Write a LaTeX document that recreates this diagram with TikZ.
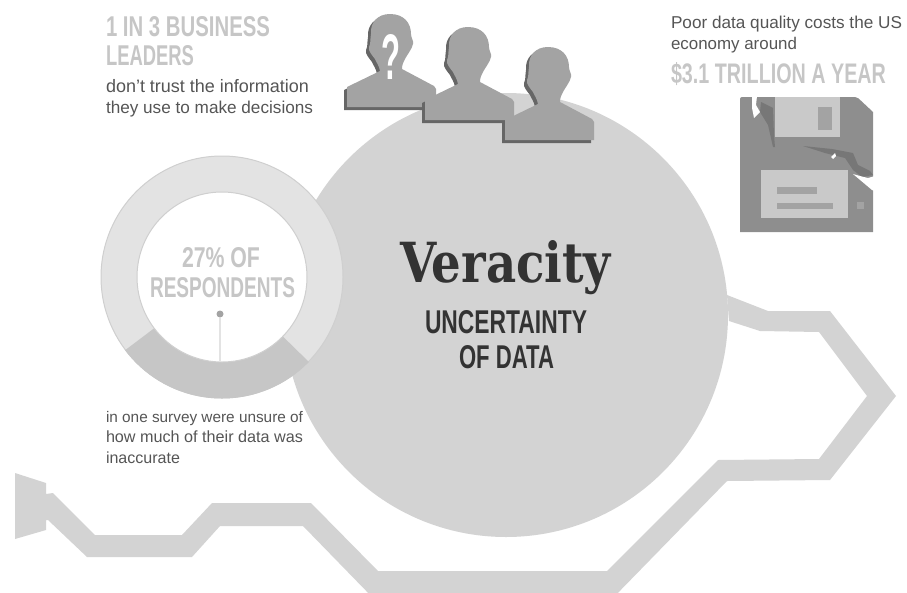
\documentclass[tikz,border=0pt]{standalone}
\usepackage{graphicx}
\usepackage{fontspec}
\setmainfont{Liberation Sans}
\newfontfamily\slabf{DejaVu Serif}
\definecolor{band}{HTML}{D3D3D3}
\definecolor{ringlight}{HTML}{E3E3E3}
\definecolor{ringdark}{HTML}{C6C6C6}
\definecolor{ringedge}{HTML}{CFCFCF}
\definecolor{headgrey}{HTML}{C6C6C6}
\definecolor{bodygrey}{HTML}{555555}
\definecolor{inkgrey}{HTML}{333333}
\definecolor{personfill}{HTML}{A3A3A3}
\definecolor{personshade}{HTML}{666666}
\definecolor{disk}{HTML}{8E8E8E}
\definecolor{diskdark}{HTML}{777777}
\definecolor{disklight}{HTML}{C9C9C9}
\definecolor{diskmid}{HTML}{A3A3A3}
\newcommand\fitbox[3]{\resizebox{#1pt}{#2pt}{#3}}
\newcommand\fitwide[2]{\resizebox{#1pt}{!}{#2}}
\newcommand\personpath{(0,0) -- (0,-20) -- (33,-36) .. controls (32,-42) and (29,-45) .. (28,-48) .. controls (25,-52) and (21,-56) .. (22,-60) .. controls (24,-64) and (23,-68) .. (24,-73) .. controls (23,-85) and (31,-93) .. (43,-93) .. controls (57,-93) and (64,-84) .. (64,-73) .. controls (64,-69) and (67,-66) .. (66,-63) .. controls (65,-58) and (60,-52) .. (58,-48) .. controls (56,-44) and (55,-42) .. (55,-38) -- (87,-21) -- (89,-18) -- (89,0) -- cycle}
\tikzset{
  lbl/.style={inner sep=0pt,outer sep=0pt,anchor=base west},
  head/.style={lbl,text=headgrey},
  body/.style={lbl,text=bodygrey},
  person/.pic={
    \fill[personshade,shift={(-3,3)}] \personpath;
    \fill[personfill] \personpath;
  }
}
\begin{document}
\begin{tikzpicture}[x=1pt,y=-1pt]
\useasboundingbox (0,0) rectangle (907,592);
\clip (0,0) rectangle (907,592);
% trace line with arrow end
\fill[band] (15,473) -- (46,483) -- (46,494) -- (53,493) -- (95,535) -- (182,535) -- (212,503) -- (311,503) -- (378,571) -- (607,571) -- (718,460) -- (819,459) -- (867,396) -- (819,332) -- (760,331) -- (729,321) -- (727,295) -- (768,311) -- (830,311) -- (896,396) -- (830,480) -- (727,481) -- (611,600) -- (375,600) -- (303,526) -- (220,526) -- (192,557) -- (87,557) -- (48,520) -- (46,520) -- (46,530) -- (15,539) -- cycle;
% big circle
\fill[band] (506,315) circle[radius=222pt];
% donut
\fill[ringlight,draw=ringedge,line width=1pt] (222,277) circle[radius=121pt];
\begin{scope}
  \clip (222,277) -- (50,407) -- (222,500) -- (400,451) -- cycle;
  \fill[ringdark] (222,277) circle[radius=121.5pt];
\end{scope}
\fill[white,draw=ringedge,line width=1pt] (222,277) circle[radius=85pt];
\coordinate (leadend) at (220,362);
\node[circle,fill=diskmid,inner sep=0pt,minimum size=7pt] (leaddot) at (220,314) {};
\draw[ringlight,line width=1.6pt] (leaddot) -- (leadend);
% people
\pic at (347,107) {person};
\node[lbl,text=white] (qmark) at (381,79) {\fitbox{19}{45}{\bfseries ?}};
\pic at (425,120) {person};
\pic at (505,140) {person};
% floppy disk
\fill[disk,rounded corners=2pt] (740,232) -- (740,97) -- (857,97) [sharp corners] -- (873,112) -- (873,232) -- cycle;
\fill[disklight] (775,97) rectangle (840,137);
\fill[diskmid] (818,107) rectangle (832,130);
\fill[disklight] (761,170) rectangle (848,218);
\fill[diskmid] (777,187) rectangle (817,194);
\fill[diskmid] (777,203) rectangle (833,209);
\fill[diskmid] (857,202) rectangle (864,209);
\fill[diskdark] (761,102) -- (773,108) -- (774,135) -- (775,147) -- (773,147) -- (768,125) -- (760,112) -- cycle;
\fill[diskdark] (803,146) -- (832,149) -- (853,153) -- (858,165) -- (870,171) -- (873,175) -- (862,177) -- (853,170) -- (845,158) -- (825,153) -- cycle;
\fill[white] (752,96) -- (757,96) -- (756,105) -- (760,112) -- (754,118) -- (752,108) -- cycle;
\fill[white] (853,174) -- (860,176) -- (868,178) -- (875,176) -- (875,191) -- (872,190) -- cycle;
\fill[white] (831,157) -- (835,153) -- (836,156) -- (833,159) -- cycle;
% text
\node[head] (t1) at (106,36) {\fitbox{164}{20}{\bfseries 1 IN 3 BUSINESS}};
\node[head] (t2) at (106,65) {\fitbox{88}{20}{\bfseries LEADERS}};
\node[body] (t3) at (106,92) {\fitwide{203}{\fontsize{14.5pt}{17pt}\selectfont don’t trust the information}};
\node[body] (t4) at (106,113) {\fitwide{207}{\fontsize{14.5pt}{17pt}\selectfont they use to make decisions}};
\node[body] (t5) at (671,28) {\fitwide{231}{\fontsize{14.5pt}{17pt}\selectfont Poor data quality costs the US}};
\node[body] (t6) at (671,49) {\fitwide{126}{\fontsize{14.5pt}{17pt}\selectfont economy around}};
\node[head] (t7) at (671,83) {\fitbox{215}{21}{\bfseries \$3.1 TRILLION A YEAR}};
\node[head] (t8) at (182,267) {\fitbox{78}{20}{\bfseries 27\% OF}};
\node[head] (t9) at (150,297) {\fitbox{145}{20}{\bfseries RESPONDENTS}};
\node[lbl,text=inkgrey] (t10) at (400,282) {\fitbox{211}{42}{\slabf\bfseries Veracity}};
\node[lbl,text=inkgrey] (t11) at (425,333) {\fitbox{162}{23}{\bfseries UNCERTAINTY}};
\node[lbl,text=inkgrey] (t12) at (459,368) {\fitbox{95}{23}{\bfseries OF DATA}};
\node[body] (t13) at (106,422) {\fitwide{197}{\fontsize{14.5pt}{17pt}\selectfont in one survey were unsure of}};
\node[body] (t14) at (106,442) {\fitwide{197}{\fontsize{14.5pt}{17pt}\selectfont how much of their data was}};
\node[body] (t15) at (106,463) {\fitwide{74}{\fontsize{14.5pt}{17pt}\selectfont inaccurate}};
\end{tikzpicture}
\end{document}
